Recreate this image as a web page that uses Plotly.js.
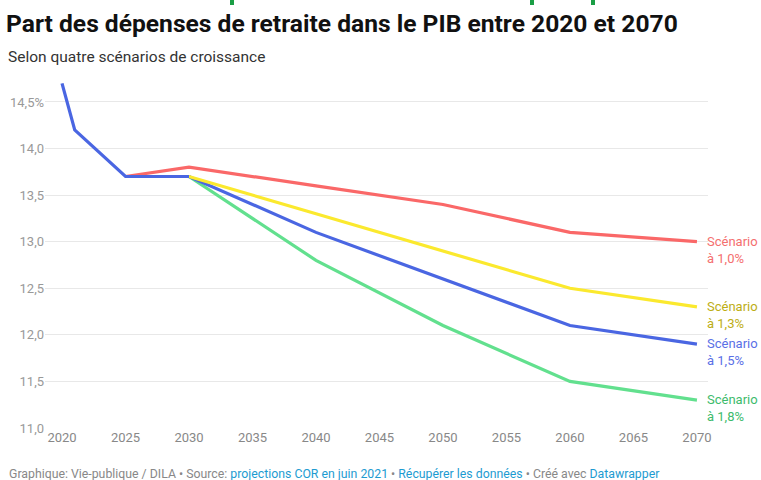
<!DOCTYPE html>
<html><head><meta charset="utf-8">
<script src="https://cdn.plot.ly/plotly-3.0.1.min.js"></script>
<style>body{margin:0;background:#fff}#c{width:761px;height:480px}</style>
</head><body><div id="c"></div>
<script>
var yearsHist = [2020, 2021, 2025, 2030];
var valsHist = [14.7, 14.2, 13.7, 13.7];
var years = [2025, 2030, 2040, 2050, 2060, 2070];
var scen10 = [13.7, 13.8, 13.6, 13.4, 13.1, 13.0];
var scen13 = [13.7, 13.7, 13.3, 12.9, 12.5, 12.3];
var scen15 = [13.7, 13.7, 13.1, 12.6, 12.1, 11.9];
var scen18 = [13.7, 13.7, 12.8, 12.1, 11.5, 11.3];
var seriesNames = ["Scénario<br>à 1,0%", "Scénario<br>à 1,3%", "Scénario<br>à 1,5%", "Scénario<br>à 1,8%"];
var yTickVals = [11.0, 11.5, 12.0, 12.5, 13.0, 13.5, 14.0, 14.5];
var yTickText = ["11,0", "11,5", "12,0", "12,5", "13,0", "13,5", "14,0", "14,5%"];
var xTickVals = [2020, 2025, 2030, 2035, 2040, 2045, 2050, 2055, 2060, 2065, 2070];

var lineColors = ["#fa6868", "#fbe92e", "#4a66e2", "#62e08e"];
var labelColors = ["#f46f6f", "#bdae15", "#5a70e6", "#3dbb6c"];
var seriesVals = [scen10, scen13, scen15, scen18];

var traces = [];
[3, 2, 1, 0].forEach(function (i) {
  traces.push({x: years, y: seriesVals[i], mode: "lines", type: "scatter",
    line: {color: lineColors[i], width: 3.2}, hoverinfo: "skip", showlegend: false});
});
traces.push({x: yearsHist, y: valsHist, mode: "lines", type: "scatter",
  line: {color: lineColors[2], width: 3.2}, hoverinfo: "skip", showlegend: false});

var annotations = seriesVals.map(function (s, i) {
  return {x: 2070, y: s[s.length - 1], xref: "x", yref: "y", text: seriesNames[i],
    showarrow: false, xanchor: "left", yanchor: "middle", align: "left", xshift: 8, yshift: -8,
    font: {family: "Roboto", size: 13, color: labelColors[i]}};
});
annotations.push({xref: "paper", yref: "paper", x: -0.059, y: 1.066, xanchor: "left", yanchor: "middle",
  showarrow: false, align: "left",
  text: "Selon quatre scénarios de croissance",
  font: {family: "Roboto", size: 15.5, color: "#333"}});
annotations.push({xref: "paper", yref: "paper", x: -0.058, y: -0.132, xanchor: "left", yanchor: "middle",
  showarrow: false, align: "left",
  text: "Graphique: Vie-publique / DILA • Source: <span style='color:#1d9bd1'>projections COR en juin 2021</span> • <span style='color:#1d9bd1'>Récupérer les données</span> • Créé avec <span style='color:#1d9bd1'>Datawrapper</span>",
  font: {family: "Roboto", size: 12.3, color: "#888"}});

var marks = [232, 532, 593].map(function (px) {
  return {type: "rect", xref: "paper", yref: "paper",
    x0: (px - 2 - 45) / 663, x1: (px + 2 - 45) / 663,
    y0: (428 - 0) / 348, y1: (428 - 5) / 348,
    fillcolor: "#1a9e45", line: {width: 0}};
});

var layout = {
  width: 761, height: 480,
  margin: {l: 45, r: 53, t: 80, b: 52},
  paper_bgcolor: "#fff", plot_bgcolor: "#fff",
  separators: ", ",
  title: {text: "<b>Part des dépenses de retraite dans le PIB entre 2020 et 2070</b>",
    x: 0.008, xanchor: "left", xref: "container", y: 0.952, yref: "container", yanchor: "middle",
    font: {family: "Roboto", size: 24.6, color: "#111"}},
  xaxis: {range: [2018.66, 2070.87], tickvals: xTickVals, showgrid: false, zeroline: false,
    showline: false, ticks: "", tickfont: {family: "Roboto", size: 13, color: "#888"}, fixedrange: true},
  yaxis: {range: [11.0, 14.736], tickvals: yTickVals, ticktext: yTickText, showgrid: true,
    gridcolor: "#e8e8e8", gridwidth: 1, zeroline: false, showline: false, ticks: "",
    tickfont: {family: "Roboto", size: 13, color: "#999"}, fixedrange: true},
  annotations: annotations,
  shapes: marks
};
Plotly.newPlot("c", traces, layout, {displayModeBar: false, staticPlot: true});
</script></body></html>
